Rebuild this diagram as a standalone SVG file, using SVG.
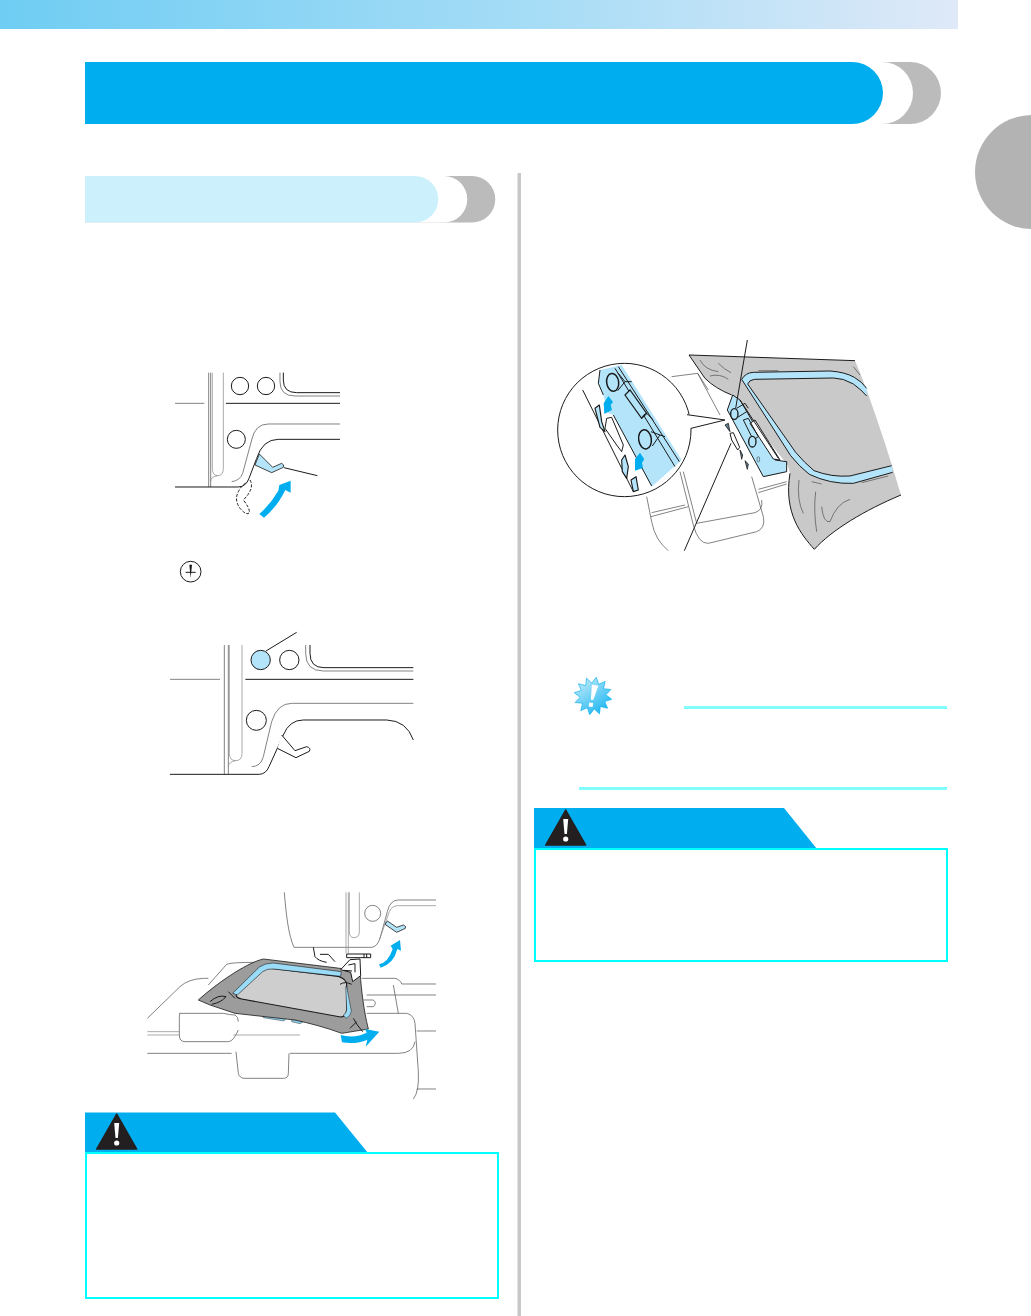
<svg xmlns="http://www.w3.org/2000/svg" width="1031" height="1316" viewBox="0 0 1031 1316">
<defs>
<linearGradient id="band" x1="0" x2="1" y1="0" y2="0"><stop offset="0" stop-color="#6fcdf3"/><stop offset=".55" stop-color="#a5dcf6"/><stop offset="1" stop-color="#dfe9f8"/></linearGradient>
<linearGradient id="burst" x1="0" x2="1" y1="0" y2="1"><stop offset="0" stop-color="#d8f1fc"/><stop offset="1" stop-color="#00aeef"/></linearGradient>
<clipPath id="lens"><circle cx="238" cy="270" r="200"/></clipPath>
<g id="warn"><path d="M0,0L-20,35H20Z" fill="#231f20" stroke="#231f20" stroke-width="1.500" stroke-linejoin="round"/><path d="M-2.500,9H2.500L1.200,24H-1.200Z" fill="#fff"/><circle cx="0" cy="29" r="2.600" fill="#fff"/></g>
</defs>
<style>
.k{fill:none;stroke:#1a1a1a;stroke-width:3}
.t{fill:none;stroke:#555;stroke-width:2.200}
.g{fill:none;stroke:#8a8a8a;stroke-width:2.200}
.w{fill:#fff;stroke:#1a1a1a;stroke-width:3}
.b{fill:#b3e4fa;stroke:#1a1a1a;stroke-width:2.400}
.a{fill:#00aeef;stroke:none}
.box{fill:#fff;stroke:#00ffff;stroke-width:2}
.note{fill:#80ffff}
</style>
<rect width="1031" height="1316" fill="#fff"/>

<g id="page-furniture">
<rect width="958" height="29" fill="url(#band)"/>
<circle cx="1032" cy="172" r="57" fill="#b3b3b3"/>
<rect x="517.500" y="173" width="3.500" height="1143" fill="#c8c8c8"/>
</g>

<g id="title-bar">
<path d="M85,62H910a31,31 0 0 1 0,62H85Z" fill="#bbb"/>
<path d="M85,62H882a31,31 0 0 1 0,62H85Z" fill="#fff"/>
<path d="M85,62H852a31,31 0 0 1 0,62H85Z" fill="#00aeef"/>
</g>

<g id="section-bar">
<path d="M85,176H472a23,23 0 0 1 0,46.500H85Z" fill="#bbb"/>
<path d="M85,176H444a23,23 0 0 1 0,46.500H85Z" fill="#fff"/>
<path d="M85,176H415a23,23 0 0 1 0,46.500H85Z" fill="#ccf0fc"/>
</g>

<g id="figure-lever-down" transform="translate(140 360) scale(.33333)">
<path class="t" d="M105,130H193M206,38V381M212,38V381"/>
<path class="k" d="M258,130H600"/>
<path class="g" d="M217,38V325Q217,347 233,347Q250,347 250,325V38M212,365Q212,350 233,347"/>
<circle class="k" cx="300" cy="78" r="26"/><circle class="k" cx="378" cy="78" r="26"/><circle class="k" cx="289" cy="238" r="27"/>
<path class="t" d="M420,38V65Q420,108 465,108H600"/>
<path class="k" d="M430,38V60Q430,98 470,98H600"/>
<path class="k" d="M105,381H295Q318,380 327,355L350,295Q368,238 415,238H600"/>
<path class="t" d="M275,365Q300,362 308,340L335,240Q345,192 385,192H600"/>
<path class="b" d="M358,282L398,322L425,310Q434,314 430,322L395,338L345,315Z"/>
<path class="k" d="M432,323L532,347" stroke-width="2.400"/>
<path class="k" stroke-dasharray="9 5" d="M330,360Q345,385 310,420Q330,445 328,458Q320,468 300,445Q282,420 295,395Q305,375 320,368"/>
<path class="a" d="M358,462Q392,432 415,392L418,375L452,362L452,398L436,390Q412,440 372,473Z"/>
</g>

<g id="needle-icon" transform="translate(140 360) scale(.33333)">
<circle class="k" cx="152" cy="635" r="31" stroke-width="3.500"/>
<path class="k" d="M137,637H167" stroke-width="2"/>
<path d="M148,614H156L152,654Z" fill="#1a1a1a"/>
</g>

<g id="figure-lever-up" transform="translate(140 620) scale(.33333)">
<path class="t" d="M90,178H240M253,75V463M265,75V463"/>
<path class="k" d="M316,178H820"/>
<path class="g" d="M268,75V400Q268,422 287,422Q306,422 306,400V75M265,440Q266,425 287,422"/>
<circle cx="362" cy="120" r="29" fill="#b3e4fa" stroke="#1a1a1a" stroke-width="3"/>
<circle class="k" cx="448" cy="120" r="29"/><circle class="k" cx="349" cy="301" r="30"/>
<path class="k" d="M378,93L470,37"/>
<path class="t" d="M497,75V100Q497,153 550,153H820"/>
<path class="k" d="M510,75V100Q510,143 552,143H820"/>
<path class="k" d="M90,463H358Q378,462 387,440L430,345Q448,300 490,300H740Q800,302 820,360"/>
<path class="t" d="M335,440Q362,440 370,410L395,305Q412,250 455,250H820"/>
<path class="w" d="M425,345L465,392L500,380Q514,384 508,394L468,413L412,385"/>
</g>

<g id="figure-hoop-removal" transform="translate(140 885) scale(.33333)">
<path class="t" d="M22,400L120,305Q145,282 190,280H205M205,300L260,238Q270,232 350,232M118,385H250Q270,390 285,390Q295,395 295,410M120,385Q118,388 118,400V450Q118,470 135,470H265Q280,470 295,435"/>
<path class="t" d="M22,505H275M450,505H775Q820,505 825,470M680,385H800Q822,390 825,415L835,560Q838,620 820,642"/>
<path class="t" d="M288,500L295,565Q298,580 315,580H430Q445,580 445,565L447,505"/>
<path class="g" d="M22,440H118M22,450H118M280,450H480" stroke-width="3"/>
<path class="t" d="M665,280H765Q782,285 785,297H888M680,330H888M760,300L775,385M830,438H888M830,612H888M670,345H700Q712,355 700,365H680"/>
<path class="t" d="M433,22C438,85 445,150 462,187H695Q712,185 720,160L742,80Q750,45 775,45H888"/>
<path class="g" d="M718,165L748,80Q755,62 775,62H888M618,22V205M625,22V205"/>
<path class="g" d="M628,22V140Q628,158 642,158Q658,158 658,140V22"/>
<circle class="t" cx="698" cy="85" r="24"/>
<path class="b" d="M742,108L770,127L790,120Q800,124 796,130L770,142L735,118Z" stroke-width="1.800"/>
<path class="a" d="M717,238Q745,232 758,192L752,182L780,165L783,197L772,192Q762,235 722,248Z"/>
<path class="k" d="M520,187L525,215Q535,228 560,232M540,208H565L585,230M620,207H692V218H620ZM672,207V218M680,207V218" stroke-width="2.400"/>
<path d="M365,388L440,398L432,408L370,398ZM455,403L490,410L480,416L455,410Z" fill="#8fd4f1" stroke="#333" stroke-width="1.500"/>
<path d="M175,345C225,300 315,235 370,222L600,250L660,262C665,320 670,370 685,432L605,445C560,428 510,415 465,405L285,385L210,360Z" fill="#9c9c9c" stroke="#1a1a1a" stroke-width="2.400"/>
<path d="M395,250L595,274Q620,282 620,300L620,378Q616,396 602,396L305,342Q284,338 290,326L365,257Q378,248 395,250Z" fill="#cecece" stroke="#1a1a1a" stroke-width="3.500"/>
<path d="M278,325L358,246Q375,234 400,234L604,260L602,274L400,252Q382,250 368,260L292,330Z" fill="#9adcf8" stroke="#1a1a1a" stroke-width="1.800"/>
<path d="M620,305L634,378Q632,394 618,400L610,390Q620,385 620,372L617,305Z" fill="#9adcf8" stroke="#1a1a1a" stroke-width="1.500"/>
<path class="k" d="M210,350Q235,328 258,335Q245,352 215,358M265,320L285,340M640,400Q650,420 668,440M650,410L630,430M600,298Q615,288 635,298" stroke-width="1.600"/>
<path class="w" d="M602,254L630,224L660,222L662,272L638,290L632,262Z" stroke-width="2"/>
<path class="k" d="M625,240L645,236V262M612,256L636,258" stroke-width="1.800"/>
<path class="a" d="M602,450C630,458 660,454 680,443L675,432L718,440L677,485L682,464C660,475 630,476 606,472Z"/>
</g>

<g id="figure-hoop-insert" transform="translate(545 340) scale(.33333)">
<path class="t" d="M380,110L458,100L525,225M458,100L490,150M305,470L320,545Q330,600 370,632"/>
<path class="t" d="M318,530L430,500M320,518L420,495M405,395L445,555Q460,612 490,610L635,575Q662,565 655,530L620,410M415,395L455,550L630,518Q655,510 650,480M640,458L725,432M640,448L725,425"/>
<path d="M432,45L930,62C960,130 1020,300 1068,465C960,510 860,570 808,628C770,585 715,520 735,400L728,375L560,165C530,155 490,125 480,115Z" fill="#c9c9c9"/>
<path class="k" d="M432,45L930,62M432,45L480,115Q510,145 560,165M1068,465C960,510 860,570 808,628C770,585 715,520 735,400"/>
<path class="t" d="M465,60Q480,90 520,95M495,108Q525,100 550,118M520,70Q540,90 558,98M925,80L945,105M640,92H700M800,425L830,432M950,428L1030,408M762,420Q755,480 775,520M812,455Q805,510 815,575M830,500Q835,550 855,545Q875,490 915,478"/>
<path d="M590,118Q602,98 625,97L855,93Q900,96 928,112Q952,126 965,145L965,168Q950,150 925,132Q895,114 865,114L628,118Q612,120 608,132L752,337Q777,367 807,392Q860,412 915,408L1040,377L1043,397L925,430Q855,433 793,403Q763,380 737,347Z" fill="#b3e4fa"/>
<path class="k" stroke-width="3" d="M965,168Q950,150 925,132Q895,114 865,114L628,118Q612,120 608,132L752,337Q777,367 807,392Q860,412 915,408L1040,377M965,145Q952,126 928,112Q900,96 855,93L625,97Q602,98 590,118L737,347Q763,380 793,403Q855,433 925,430L1043,397"/>
<path d="M563,165L547,210L655,410L725,395V365L690,360L585,180Z" fill="#b3e4fa" stroke="#1a1a1a" stroke-width="3" stroke-linejoin="round"/>
<path class="w" d="M630,240L705,360L685,357L615,250Z" stroke-width="2.400"/>
<path class="k" fill="#b3e4fa" d="M595,240L610,235L640,290L625,300Z" stroke-width="3"/>
<ellipse cx="568" cy="222" rx="11" ry="16" fill="#b3e4fa" stroke="#1a1a1a" stroke-width="4"/>
<path class="k" d="M575,205L600,190L610,205M578,232L605,215M585,180L700,355" stroke-width="2.600"/>
<ellipse cx="622" cy="305" rx="11" ry="16" fill="#b3e4fa" stroke="#1a1a1a" stroke-width="4"/>
<ellipse cx="640" cy="358" rx="4" ry="8" fill="none" stroke="#1a1a1a" stroke-width="1.500"/>
<path fill="#5b7f90" stroke="#1a1a1a" stroke-width="2.400" d="M540,255L550,250L555,275ZM585,330L593,345L590,358ZM600,362L610,372L607,388Z"/>
<path class="w" d="M555,280L565,278L584,322L578,330L560,300Z" stroke-width="2.400"/>
<path class="k" d="M607,0L572,205M558,310L418,632" stroke-width="2.400"/>
<circle cx="238" cy="270" r="200" fill="#fff"/>
<g clip-path="url(#lens)">
<path d="M165,90L230,75L410,360L320,440L205,225L190,220L175,165L160,130Z" fill="#b3e4fa"/>
<path class="k" d="M210,85L390,380M220,80L403,365M175,165L160,130L165,90M113,150L265,455M205,225L320,438" stroke-width="2.400"/>
<path class="w" d="M185,235L200,232L235,315L230,335L215,315L180,265Z" stroke-width="2.600"/>
<path d="M150,205L163,195L170,245L180,275L165,262ZM230,360L240,345L250,380L245,415L232,395ZM258,420L273,410L280,450L265,455Z" fill="#b3e4fa" stroke="#1a1a1a" stroke-width="3.500" stroke-linejoin="round"/>
<path d="M240,165L255,150L305,220L290,235Z" fill="#b3e4fa" stroke="#1a1a1a" stroke-width="3.500"/>
<path class="k" stroke-width="3" d="M290,235Q295,222 305,220L325,240M220,100L240,125L260,125M218,152L240,125M318,275L345,285L360,290M322,318L345,285"/>
<ellipse cx="203" cy="127" rx="18" ry="27" fill="#b3e4fa" stroke="#1a1a1a" stroke-width="4.500" transform="rotate(-8 203 127)"/>
<ellipse cx="300" cy="298" rx="19" ry="29" fill="#b3e4fa" stroke="#1a1a1a" stroke-width="4.500" transform="rotate(-8 300 298)"/>
<path class="a" d="M176,190L190,168L204,186L197,195L201,210L178,222ZM270,357L285,338L298,358L291,368L294,384L270,392Z"/>
</g>
<circle class="k" cx="238" cy="270" r="200" stroke-width="6"/>
<path d="M428,223L540,240L440,264L420,268L432,240Z" fill="#fff" stroke="none"/>
<path class="k" d="M426,224L540,240L438,265" stroke-width="6"/>
</g>

<g id="note">
<g transform="translate(593 696) rotate(10)">
<path fill="url(#burst)" stroke="#00aeef" stroke-width=".6" d="M19,0L12.500,3.500 16.500,9.500 9,9 9.500,16.500 3.500,12.500 0,19 -3.500,12.500 -9.500,16.500 -9,9 -16.500,9.500 -12.500,3.500 -19,0 -12.500,-3.500 -16.500,-9.500 -9,-9 -9.500,-16.500 -3.500,-12.500 0,-19 3.500,-12.500 9.500,-16.500 9,-9 16.500,-9.500 12.500,-3.500Z"/>
<path fill="#fff" d="M-3,-11L3.500,-11L1,4L-1.500,4ZM-2.500,7H1.500V11H-2.500Z"/>
</g>
<rect class="note" x="684" y="706" width="263" height="3"/>
<rect class="note" x="579" y="787" width="368" height="3"/>
</g>

<g id="caution-right">
<path d="M534,808H784L817,849H534Z" fill="#00aeef"/>
<rect class="box" x="535" y="849" width="412" height="112"/>
<use href="#warn" x="565.700" y="810"/>
</g>

<g id="caution-left">
<path d="M85,1112.500H335L368,1153H85Z" fill="#00aeef"/>
<rect class="box" x="86" y="1153" width="412" height="145"/>
<use href="#warn" x="116.700" y="1114"/>
</g>
</svg>
